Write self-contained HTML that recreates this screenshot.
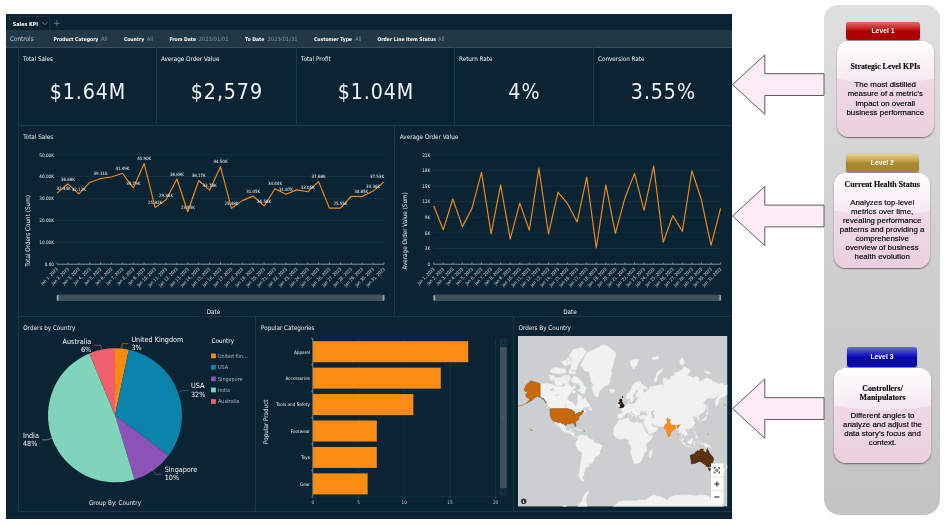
<!DOCTYPE html>
<html lang="en"><head><meta charset="utf-8"><title>Sales KPI dashboard levels</title>
<style>
html,body{margin:0;padding:0;background:#fff;}
body{width:946px;height:526px;position:relative;overflow:hidden;font-family:"Liberation Sans",sans-serif;}
.t{position:absolute;white-space:nowrap;font-family:"DejaVu Sans Condensed","DejaVu Sans",sans-serif;}
.abs{position:absolute;}
#dash{position:absolute;left:6px;top:14px;width:726px;height:504.5px;background:#0a2433;box-sizing:border-box;border-right:1px solid #06192599;}
.panel{position:absolute;box-sizing:border-box;border-left:1px solid #193746;border-bottom:1px solid #193746;}
svg{position:absolute;left:0;top:0;overflow:visible;}
svg text{font-family:"DejaVu Sans Condensed","DejaVu Sans",sans-serif;}
.card{position:absolute;box-sizing:border-box;border-radius:12px;background:linear-gradient(#f7e2ee 0%,#f0d9e5 45%,#ead0dd 100%);box-shadow:0 1px 1.5px rgba(60,40,50,.65);overflow:hidden;}
.card:before{content:"";position:absolute;left:-100%;width:300%;top:-110%;height:154%;border-radius:50%;background:linear-gradient(rgba(255,255,255,0) 0%,rgba(255,255,255,.95) 72%,rgba(255,255,255,.35) 100%);}
.badge{position:absolute;box-sizing:border-box;border-radius:2.5px;color:#fff;font-weight:bold;text-align:center;font-size:6.8px;}
.body{position:absolute;text-align:center;color:#000;-webkit-text-stroke:0.15px #000;font-size:7.9px;line-height:9px;white-space:nowrap;}
.ttl{position:absolute;text-align:center;color:#000;-webkit-text-stroke:0.12px #000;font-family:"Liberation Serif",serif;font-weight:bold;font-size:7.9px;line-height:9px;white-space:nowrap;}
</style></head><body>

<div id="dash"></div>
<div class="abs" style="left:8.5px;top:16px;width:41px;height:14.5px;box-sizing:border-box;border:1px solid #17313f;border-bottom:none;background:#0a202d;"></div>
<div class="t" style="top:20.79px;font-size:5.35px;line-height:6.42px;color:#fff;font-weight:bold;left:12.80px;">Sales KPI</div>
<svg width="946" height="526" viewBox="0 0 946 526"><path d="M42.3 22 L45 24.8 L47.7 22" fill="none" stroke="#8c9ba5" stroke-width="0.7"/><path d="M54 23.3H59.8M56.9 20.4V26.2" stroke="#7d8e99" stroke-width="0.7"/></svg>
<div class="abs" style="left:6px;top:30px;width:726px;height:17.5px;background:#233846;box-sizing:border-box;border-bottom:1px solid #3b4e5a;"></div>
<div class="t" style="top:36.06px;font-size:6.40px;line-height:7.68px;color:#c3ced4;left:9.90px;">Controls</div>
<div class="t" style="top:36.17px;font-size:5.05px;line-height:6.06px;color:#fff;font-weight:bold;left:53.50px;">Product Category</div>
<div class="t" style="top:35.72px;font-size:5.80px;line-height:6.96px;color:#7f909b;left:101.00px;">All</div>
<div class="t" style="top:36.17px;font-size:5.05px;line-height:6.06px;color:#fff;font-weight:bold;left:123.90px;">Country</div>
<div class="t" style="top:35.72px;font-size:5.80px;line-height:6.96px;color:#7f909b;left:146.70px;">All</div>
<div class="t" style="top:36.17px;font-size:5.05px;line-height:6.06px;color:#fff;font-weight:bold;left:169.50px;">From Date</div>
<div class="t" style="top:35.72px;font-size:5.80px;line-height:6.96px;color:#7f909b;left:198.50px;">2023/01/01</div>
<div class="t" style="top:36.17px;font-size:5.05px;line-height:6.06px;color:#fff;font-weight:bold;left:245.00px;">To Date</div>
<div class="t" style="top:35.72px;font-size:5.80px;line-height:6.96px;color:#7f909b;left:267.50px;">2023/01/31</div>
<div class="t" style="top:36.17px;font-size:5.05px;line-height:6.06px;color:#fff;font-weight:bold;left:314.00px;">Customer Type</div>
<div class="t" style="top:35.72px;font-size:5.80px;line-height:6.96px;color:#7f909b;left:355.00px;">All</div>
<div class="t" style="top:36.17px;font-size:5.05px;line-height:6.06px;color:#fff;font-weight:bold;left:377.50px;">Order Line Item Status</div>
<div class="t" style="top:35.72px;font-size:5.80px;line-height:6.96px;color:#7f909b;left:438.00px;">All</div>
<div class="panel" style="left:18.0px;top:47px;width:138.0px;height:78.5px;"></div>
<div class="t" style="top:54.92px;font-size:6.30px;line-height:7.56px;color:#eef2f4;left:23.00px;">Total Sales</div>
<div class="t" style="top:78.68px;font-size:21.20px;line-height:25.44px;color:#f2f4f5;left:87.90px;width:300px;margin-left:-150px;text-align:center;letter-spacing:0.9px;">$1.64M</div>
<div class="panel" style="left:156.0px;top:47px;width:140.0px;height:78.5px;"></div>
<div class="t" style="top:54.92px;font-size:6.30px;line-height:7.56px;color:#eef2f4;left:161.00px;">Average Order Value</div>
<div class="t" style="top:78.68px;font-size:21.20px;line-height:25.44px;color:#f2f4f5;left:226.90px;width:300px;margin-left:-150px;text-align:center;letter-spacing:0.9px;">$2,579</div>
<div class="panel" style="left:296.0px;top:47px;width:158.0px;height:78.5px;"></div>
<div class="t" style="top:54.92px;font-size:6.30px;line-height:7.56px;color:#eef2f4;left:301.00px;">Total Profit</div>
<div class="t" style="top:78.68px;font-size:21.20px;line-height:25.44px;color:#f2f4f5;left:375.90px;width:300px;margin-left:-150px;text-align:center;letter-spacing:0.9px;">$1.04M</div>
<div class="panel" style="left:454.0px;top:47px;width:139.0px;height:78.5px;"></div>
<div class="t" style="top:54.92px;font-size:6.30px;line-height:7.56px;color:#eef2f4;left:459.00px;">Return Rate</div>
<div class="t" style="top:78.68px;font-size:21.20px;line-height:25.44px;color:#f2f4f5;left:524.40px;width:300px;margin-left:-150px;text-align:center;letter-spacing:0.9px;">4%</div>
<div class="panel" style="left:593.0px;top:47px;width:139.0px;height:78.5px;"></div>
<div class="t" style="top:54.92px;font-size:6.30px;line-height:7.56px;color:#eef2f4;left:598.00px;">Conversion Rate</div>
<div class="t" style="top:78.68px;font-size:21.20px;line-height:25.44px;color:#f2f4f5;left:663.40px;width:300px;margin-left:-150px;text-align:center;letter-spacing:0.9px;">3.55%</div>
<div class="panel" style="left:18px;top:125.5px;width:376px;height:191.5px;"></div>
<div class="panel" style="left:394px;top:125.5px;width:338px;height:191.5px;"></div>
<div class="t" style="top:133.22px;font-size:6.30px;line-height:7.56px;color:#e8eef1;left:23.30px;">Total Sales</div>
<div class="t" style="top:133.22px;font-size:6.30px;line-height:7.56px;color:#e8eef1;left:399.80px;">Average Order Value</div>
<div class="panel" style="left:18px;top:317px;width:237px;height:194.5px;"></div>
<div class="panel" style="left:255px;top:317px;width:258px;height:194.5px;"></div>
<div class="panel" style="left:513px;top:317px;width:219px;height:194.5px;"></div>
<div class="t" style="top:323.82px;font-size:6.30px;line-height:7.56px;color:#e8eef1;left:23.30px;">Orders by Country</div>
<div class="t" style="top:323.82px;font-size:6.30px;line-height:7.56px;color:#e8eef1;left:261.00px;">Popular Categories</div>
<div class="t" style="top:323.82px;font-size:6.30px;line-height:7.56px;color:#e8eef1;left:518.50px;">Orders By Country</div>
<svg width="946" height="526" viewBox="0 0 946 526">
<path d="M57.0 264.20H384.0" stroke="#a3b1ba" stroke-width="0.8"/>
<text x="54.0" y="266.10" font-size="4.65" fill="#dfe6ea" text-anchor="end">0.00</text>
<path d="M57.0 242.28H384.0" stroke="#1b3a49" stroke-width="0.6"/>
<text x="54.0" y="244.18" font-size="4.65" fill="#dfe6ea" text-anchor="end">10.00K</text>
<path d="M57.0 220.36H384.0" stroke="#1b3a49" stroke-width="0.6"/>
<text x="54.0" y="222.26" font-size="4.65" fill="#dfe6ea" text-anchor="end">20.00K</text>
<path d="M57.0 198.44H384.0" stroke="#1b3a49" stroke-width="0.6"/>
<text x="54.0" y="200.34" font-size="4.65" fill="#dfe6ea" text-anchor="end">30.00K</text>
<path d="M57.0 176.52H384.0" stroke="#1b3a49" stroke-width="0.6"/>
<text x="54.0" y="178.42" font-size="4.65" fill="#dfe6ea" text-anchor="end">40.00K</text>
<path d="M57.0 154.60H384.0" stroke="#1b3a49" stroke-width="0.6"/>
<text x="54.0" y="156.50" font-size="4.65" fill="#dfe6ea" text-anchor="end">50.00K</text>
<path d="M57.00 262.3v2" stroke="#a3b1ba" stroke-width="0.6"/>
<text transform="translate(58.30 269.40) rotate(-45)" font-size="4.4" fill="#d2dadf" text-anchor="end">Jan 1, 2023</text>
<path d="M67.90 262.3v2" stroke="#a3b1ba" stroke-width="0.6"/>
<text transform="translate(69.20 269.40) rotate(-45)" font-size="4.4" fill="#d2dadf" text-anchor="end">Jan 2, 2023</text>
<path d="M78.80 262.3v2" stroke="#a3b1ba" stroke-width="0.6"/>
<text transform="translate(80.10 269.40) rotate(-45)" font-size="4.4" fill="#d2dadf" text-anchor="end">Jan 3, 2023</text>
<path d="M89.70 262.3v2" stroke="#a3b1ba" stroke-width="0.6"/>
<text transform="translate(91.00 269.40) rotate(-45)" font-size="4.4" fill="#d2dadf" text-anchor="end">Jan 4, 2023</text>
<path d="M100.60 262.3v2" stroke="#a3b1ba" stroke-width="0.6"/>
<text transform="translate(101.90 269.40) rotate(-45)" font-size="4.4" fill="#d2dadf" text-anchor="end">Jan 5, 2023</text>
<path d="M111.50 262.3v2" stroke="#a3b1ba" stroke-width="0.6"/>
<text transform="translate(112.80 269.40) rotate(-45)" font-size="4.4" fill="#d2dadf" text-anchor="end">Jan 6, 2023</text>
<path d="M122.40 262.3v2" stroke="#a3b1ba" stroke-width="0.6"/>
<text transform="translate(123.70 269.40) rotate(-45)" font-size="4.4" fill="#d2dadf" text-anchor="end">Jan 7, 2023</text>
<path d="M133.30 262.3v2" stroke="#a3b1ba" stroke-width="0.6"/>
<text transform="translate(134.60 269.40) rotate(-45)" font-size="4.4" fill="#d2dadf" text-anchor="end">Jan 8, 2023</text>
<path d="M144.20 262.3v2" stroke="#a3b1ba" stroke-width="0.6"/>
<text transform="translate(145.50 269.40) rotate(-45)" font-size="4.4" fill="#d2dadf" text-anchor="end">Jan 9, 2023</text>
<path d="M155.10 262.3v2" stroke="#a3b1ba" stroke-width="0.6"/>
<text transform="translate(156.40 269.40) rotate(-45)" font-size="4.4" fill="#d2dadf" text-anchor="end">Jan 10, 2023</text>
<path d="M166.00 262.3v2" stroke="#a3b1ba" stroke-width="0.6"/>
<text transform="translate(167.30 269.40) rotate(-45)" font-size="4.4" fill="#d2dadf" text-anchor="end">Jan 11, 2023</text>
<path d="M176.90 262.3v2" stroke="#a3b1ba" stroke-width="0.6"/>
<text transform="translate(178.20 269.40) rotate(-45)" font-size="4.4" fill="#d2dadf" text-anchor="end">Jan 12, 2023</text>
<path d="M187.80 262.3v2" stroke="#a3b1ba" stroke-width="0.6"/>
<text transform="translate(189.10 269.40) rotate(-45)" font-size="4.4" fill="#d2dadf" text-anchor="end">Jan 13, 2023</text>
<path d="M198.70 262.3v2" stroke="#a3b1ba" stroke-width="0.6"/>
<text transform="translate(200.00 269.40) rotate(-45)" font-size="4.4" fill="#d2dadf" text-anchor="end">Jan 14, 2023</text>
<path d="M209.60 262.3v2" stroke="#a3b1ba" stroke-width="0.6"/>
<text transform="translate(210.90 269.40) rotate(-45)" font-size="4.4" fill="#d2dadf" text-anchor="end">Jan 15, 2023</text>
<path d="M220.50 262.3v2" stroke="#a3b1ba" stroke-width="0.6"/>
<text transform="translate(221.80 269.40) rotate(-45)" font-size="4.4" fill="#d2dadf" text-anchor="end">Jan 16, 2023</text>
<path d="M231.40 262.3v2" stroke="#a3b1ba" stroke-width="0.6"/>
<text transform="translate(232.70 269.40) rotate(-45)" font-size="4.4" fill="#d2dadf" text-anchor="end">Jan 17, 2023</text>
<path d="M242.30 262.3v2" stroke="#a3b1ba" stroke-width="0.6"/>
<text transform="translate(243.60 269.40) rotate(-45)" font-size="4.4" fill="#d2dadf" text-anchor="end">Jan 18, 2023</text>
<path d="M253.20 262.3v2" stroke="#a3b1ba" stroke-width="0.6"/>
<text transform="translate(254.50 269.40) rotate(-45)" font-size="4.4" fill="#d2dadf" text-anchor="end">Jan 19, 2023</text>
<path d="M264.10 262.3v2" stroke="#a3b1ba" stroke-width="0.6"/>
<text transform="translate(265.40 269.40) rotate(-45)" font-size="4.4" fill="#d2dadf" text-anchor="end">Jan 20, 2023</text>
<path d="M275.00 262.3v2" stroke="#a3b1ba" stroke-width="0.6"/>
<text transform="translate(276.30 269.40) rotate(-45)" font-size="4.4" fill="#d2dadf" text-anchor="end">Jan 21, 2023</text>
<path d="M285.90 262.3v2" stroke="#a3b1ba" stroke-width="0.6"/>
<text transform="translate(287.20 269.40) rotate(-45)" font-size="4.4" fill="#d2dadf" text-anchor="end">Jan 22, 2023</text>
<path d="M296.80 262.3v2" stroke="#a3b1ba" stroke-width="0.6"/>
<text transform="translate(298.10 269.40) rotate(-45)" font-size="4.4" fill="#d2dadf" text-anchor="end">Jan 23, 2023</text>
<path d="M307.70 262.3v2" stroke="#a3b1ba" stroke-width="0.6"/>
<text transform="translate(309.00 269.40) rotate(-45)" font-size="4.4" fill="#d2dadf" text-anchor="end">Jan 24, 2023</text>
<path d="M318.60 262.3v2" stroke="#a3b1ba" stroke-width="0.6"/>
<text transform="translate(319.90 269.40) rotate(-45)" font-size="4.4" fill="#d2dadf" text-anchor="end">Jan 25, 2023</text>
<path d="M329.50 262.3v2" stroke="#a3b1ba" stroke-width="0.6"/>
<text transform="translate(330.80 269.40) rotate(-45)" font-size="4.4" fill="#d2dadf" text-anchor="end">Jan 26, 2023</text>
<path d="M340.40 262.3v2" stroke="#a3b1ba" stroke-width="0.6"/>
<text transform="translate(341.70 269.40) rotate(-45)" font-size="4.4" fill="#d2dadf" text-anchor="end">Jan 27, 2023</text>
<path d="M351.30 262.3v2" stroke="#a3b1ba" stroke-width="0.6"/>
<text transform="translate(352.60 269.40) rotate(-45)" font-size="4.4" fill="#d2dadf" text-anchor="end">Jan 28, 2023</text>
<path d="M362.20 262.3v2" stroke="#a3b1ba" stroke-width="0.6"/>
<text transform="translate(363.50 269.40) rotate(-45)" font-size="4.4" fill="#d2dadf" text-anchor="end">Jan 29, 2023</text>
<path d="M373.10 262.3v2" stroke="#a3b1ba" stroke-width="0.6"/>
<text transform="translate(374.40 269.40) rotate(-45)" font-size="4.4" fill="#d2dadf" text-anchor="end">Jan 30, 2023</text>
<path d="M384.00 262.3v2" stroke="#a3b1ba" stroke-width="0.6"/>
<text transform="translate(385.30 269.40) rotate(-45)" font-size="4.4" fill="#d2dadf" text-anchor="end">Jan 31, 2023</text>
<polyline points="57.00,193.09 67.90,183.80 78.80,193.79 89.70,182.44 100.60,178.47 111.50,176.96 122.40,173.25 133.30,187.94 144.20,163.59 155.10,207.60 166.00,199.84 176.90,178.95 187.80,211.70 198.70,180.53 209.60,190.15 220.50,166.66 231.40,208.35 242.30,200.63 253.20,196.14 264.10,205.94 275.00,188.71 285.90,194.34 296.80,189.89 307.70,191.75 318.60,181.61 329.50,208.19 340.40,208.19 351.30,196.25 362.20,196.58 373.10,191.07 384.00,181.93" fill="none" stroke="#f28a17" stroke-width="1.15" stroke-linejoin="round"/>
<text x="63.60" y="190.49" font-size="4.45" fill="#f4f6f7" text-anchor="middle">32.44K</text>
<text x="67.90" y="181.10" font-size="4.45" fill="#f4f6f7" text-anchor="middle">36.68K</text>
<text x="78.80" y="191.09" font-size="4.45" fill="#f4f6f7" text-anchor="middle">32.12K</text>
<text x="100.60" y="175.27" font-size="4.45" fill="#f4f6f7" text-anchor="middle">39.11K</text>
<text x="122.40" y="169.55" font-size="4.45" fill="#f4f6f7" text-anchor="middle">41.49K</text>
<text x="133.30" y="184.74" font-size="4.45" fill="#f4f6f7" text-anchor="middle">34.79K</text>
<text x="144.20" y="160.19" font-size="4.45" fill="#f4f6f7" text-anchor="middle">45.90K</text>
<text x="155.10" y="204.40" font-size="4.45" fill="#f4f6f7" text-anchor="middle">25.82K</text>
<text x="166.00" y="196.64" font-size="4.45" fill="#f4f6f7" text-anchor="middle">29.36K</text>
<text x="176.90" y="175.75" font-size="4.45" fill="#f4f6f7" text-anchor="middle">38.89K</text>
<text x="187.80" y="208.50" font-size="4.45" fill="#f4f6f7" text-anchor="middle">23.95K</text>
<text x="198.70" y="177.33" font-size="4.45" fill="#f4f6f7" text-anchor="middle">38.17K</text>
<text x="209.60" y="186.95" font-size="4.45" fill="#f4f6f7" text-anchor="middle">33.78K</text>
<text x="220.50" y="163.26" font-size="4.45" fill="#f4f6f7" text-anchor="middle">44.50K</text>
<text x="231.40" y="205.15" font-size="4.45" fill="#f4f6f7" text-anchor="middle">25.48K</text>
<text x="253.20" y="192.74" font-size="4.45" fill="#f4f6f7" text-anchor="middle">31.05K</text>
<text x="264.10" y="202.54" font-size="4.45" fill="#f4f6f7" text-anchor="middle">26.58K</text>
<text x="275.00" y="185.31" font-size="4.45" fill="#f4f6f7" text-anchor="middle">34.44K</text>
<text x="285.90" y="190.94" font-size="4.45" fill="#f4f6f7" text-anchor="middle">31.87K</text>
<text x="307.70" y="188.55" font-size="4.45" fill="#f4f6f7" text-anchor="middle">33.05K</text>
<text x="318.60" y="177.91" font-size="4.45" fill="#f4f6f7" text-anchor="middle">37.68K</text>
<text x="340.40" y="204.79" font-size="4.45" fill="#f4f6f7" text-anchor="middle">25.55K</text>
<text x="361.20" y="193.38" font-size="4.45" fill="#f4f6f7" text-anchor="middle">30.85K</text>
<text x="373.10" y="187.87" font-size="4.45" fill="#f4f6f7" text-anchor="middle">33.36K</text>
<text x="377.00" y="178.23" font-size="4.45" fill="#f4f6f7" text-anchor="middle">37.53K</text>
<text transform="translate(29.6 230.9) rotate(-90)" font-size="6.3" fill="#e8eef1" text-anchor="middle">Total Orders Count (Sum)</text>
<rect x="57.0" y="294.6" width="327.0" height="6.4" rx="1.2" fill="#3f515d"/>
<rect x="56.7" y="294.9" width="1.8" height="5.8" rx="0.9" fill="#96a3b4"/>
<rect x="382.7" y="294.9" width="1.8" height="5.8" rx="0.9" fill="#96a3b4"/>
<text x="213.5" y="314.2" font-size="6.3" fill="#e8eef1" text-anchor="middle">Date</text>
<path d="M433.7 264.20H720.6" stroke="#a3b1ba" stroke-width="0.8"/>
<text x="430.2" y="266.10" font-size="4.65" fill="#dfe6ea" text-anchor="end">0</text>
<path d="M433.7 248.54H720.6" stroke="#1b3a49" stroke-width="0.6"/>
<text x="430.2" y="250.44" font-size="4.65" fill="#dfe6ea" text-anchor="end">3K</text>
<path d="M433.7 232.89H720.6" stroke="#1b3a49" stroke-width="0.6"/>
<text x="430.2" y="234.79" font-size="4.65" fill="#dfe6ea" text-anchor="end">6K</text>
<path d="M433.7 217.23H720.6" stroke="#1b3a49" stroke-width="0.6"/>
<text x="430.2" y="219.13" font-size="4.65" fill="#dfe6ea" text-anchor="end">9K</text>
<path d="M433.7 201.57H720.6" stroke="#1b3a49" stroke-width="0.6"/>
<text x="430.2" y="203.47" font-size="4.65" fill="#dfe6ea" text-anchor="end">12K</text>
<path d="M433.7 185.91H720.6" stroke="#1b3a49" stroke-width="0.6"/>
<text x="430.2" y="187.81" font-size="4.65" fill="#dfe6ea" text-anchor="end">15K</text>
<path d="M433.7 170.26H720.6" stroke="#1b3a49" stroke-width="0.6"/>
<text x="430.2" y="172.16" font-size="4.65" fill="#dfe6ea" text-anchor="end">18K</text>
<path d="M433.7 154.60H720.6" stroke="#1b3a49" stroke-width="0.6"/>
<text x="430.2" y="156.50" font-size="4.65" fill="#dfe6ea" text-anchor="end">21K</text>
<path d="M433.70 262.3v2" stroke="#a3b1ba" stroke-width="0.6"/>
<text transform="translate(435.00 269.40) rotate(-45)" font-size="4.4" fill="#d2dadf" text-anchor="end">Jan 1, 2023</text>
<path d="M443.26 262.3v2" stroke="#a3b1ba" stroke-width="0.6"/>
<text transform="translate(444.56 269.40) rotate(-45)" font-size="4.4" fill="#d2dadf" text-anchor="end">Jan 2, 2023</text>
<path d="M452.83 262.3v2" stroke="#a3b1ba" stroke-width="0.6"/>
<text transform="translate(454.13 269.40) rotate(-45)" font-size="4.4" fill="#d2dadf" text-anchor="end">Jan 3, 2023</text>
<path d="M462.39 262.3v2" stroke="#a3b1ba" stroke-width="0.6"/>
<text transform="translate(463.69 269.40) rotate(-45)" font-size="4.4" fill="#d2dadf" text-anchor="end">Jan 4, 2023</text>
<path d="M471.95 262.3v2" stroke="#a3b1ba" stroke-width="0.6"/>
<text transform="translate(473.25 269.40) rotate(-45)" font-size="4.4" fill="#d2dadf" text-anchor="end">Jan 5, 2023</text>
<path d="M481.52 262.3v2" stroke="#a3b1ba" stroke-width="0.6"/>
<text transform="translate(482.82 269.40) rotate(-45)" font-size="4.4" fill="#d2dadf" text-anchor="end">Jan 6, 2023</text>
<path d="M491.08 262.3v2" stroke="#a3b1ba" stroke-width="0.6"/>
<text transform="translate(492.38 269.40) rotate(-45)" font-size="4.4" fill="#d2dadf" text-anchor="end">Jan 7, 2023</text>
<path d="M500.64 262.3v2" stroke="#a3b1ba" stroke-width="0.6"/>
<text transform="translate(501.94 269.40) rotate(-45)" font-size="4.4" fill="#d2dadf" text-anchor="end">Jan 8, 2023</text>
<path d="M510.21 262.3v2" stroke="#a3b1ba" stroke-width="0.6"/>
<text transform="translate(511.51 269.40) rotate(-45)" font-size="4.4" fill="#d2dadf" text-anchor="end">Jan 9, 2023</text>
<path d="M519.77 262.3v2" stroke="#a3b1ba" stroke-width="0.6"/>
<text transform="translate(521.07 269.40) rotate(-45)" font-size="4.4" fill="#d2dadf" text-anchor="end">Jan 10, 2023</text>
<path d="M529.33 262.3v2" stroke="#a3b1ba" stroke-width="0.6"/>
<text transform="translate(530.63 269.40) rotate(-45)" font-size="4.4" fill="#d2dadf" text-anchor="end">Jan 11, 2023</text>
<path d="M538.90 262.3v2" stroke="#a3b1ba" stroke-width="0.6"/>
<text transform="translate(540.20 269.40) rotate(-45)" font-size="4.4" fill="#d2dadf" text-anchor="end">Jan 12, 2023</text>
<path d="M548.46 262.3v2" stroke="#a3b1ba" stroke-width="0.6"/>
<text transform="translate(549.76 269.40) rotate(-45)" font-size="4.4" fill="#d2dadf" text-anchor="end">Jan 13, 2023</text>
<path d="M558.02 262.3v2" stroke="#a3b1ba" stroke-width="0.6"/>
<text transform="translate(559.32 269.40) rotate(-45)" font-size="4.4" fill="#d2dadf" text-anchor="end">Jan 14, 2023</text>
<path d="M567.59 262.3v2" stroke="#a3b1ba" stroke-width="0.6"/>
<text transform="translate(568.89 269.40) rotate(-45)" font-size="4.4" fill="#d2dadf" text-anchor="end">Jan 15, 2023</text>
<path d="M577.15 262.3v2" stroke="#a3b1ba" stroke-width="0.6"/>
<text transform="translate(578.45 269.40) rotate(-45)" font-size="4.4" fill="#d2dadf" text-anchor="end">Jan 16, 2023</text>
<path d="M586.71 262.3v2" stroke="#a3b1ba" stroke-width="0.6"/>
<text transform="translate(588.01 269.40) rotate(-45)" font-size="4.4" fill="#d2dadf" text-anchor="end">Jan 17, 2023</text>
<path d="M596.28 262.3v2" stroke="#a3b1ba" stroke-width="0.6"/>
<text transform="translate(597.58 269.40) rotate(-45)" font-size="4.4" fill="#d2dadf" text-anchor="end">Jan 18, 2023</text>
<path d="M605.84 262.3v2" stroke="#a3b1ba" stroke-width="0.6"/>
<text transform="translate(607.14 269.40) rotate(-45)" font-size="4.4" fill="#d2dadf" text-anchor="end">Jan 19, 2023</text>
<path d="M615.40 262.3v2" stroke="#a3b1ba" stroke-width="0.6"/>
<text transform="translate(616.70 269.40) rotate(-45)" font-size="4.4" fill="#d2dadf" text-anchor="end">Jan 20, 2023</text>
<path d="M624.97 262.3v2" stroke="#a3b1ba" stroke-width="0.6"/>
<text transform="translate(626.27 269.40) rotate(-45)" font-size="4.4" fill="#d2dadf" text-anchor="end">Jan 21, 2023</text>
<path d="M634.53 262.3v2" stroke="#a3b1ba" stroke-width="0.6"/>
<text transform="translate(635.83 269.40) rotate(-45)" font-size="4.4" fill="#d2dadf" text-anchor="end">Jan 22, 2023</text>
<path d="M644.09 262.3v2" stroke="#a3b1ba" stroke-width="0.6"/>
<text transform="translate(645.39 269.40) rotate(-45)" font-size="4.4" fill="#d2dadf" text-anchor="end">Jan 23, 2023</text>
<path d="M653.66 262.3v2" stroke="#a3b1ba" stroke-width="0.6"/>
<text transform="translate(654.96 269.40) rotate(-45)" font-size="4.4" fill="#d2dadf" text-anchor="end">Jan 24, 2023</text>
<path d="M663.22 262.3v2" stroke="#a3b1ba" stroke-width="0.6"/>
<text transform="translate(664.52 269.40) rotate(-45)" font-size="4.4" fill="#d2dadf" text-anchor="end">Jan 25, 2023</text>
<path d="M672.78 262.3v2" stroke="#a3b1ba" stroke-width="0.6"/>
<text transform="translate(674.08 269.40) rotate(-45)" font-size="4.4" fill="#d2dadf" text-anchor="end">Jan 26, 2023</text>
<path d="M682.35 262.3v2" stroke="#a3b1ba" stroke-width="0.6"/>
<text transform="translate(683.65 269.40) rotate(-45)" font-size="4.4" fill="#d2dadf" text-anchor="end">Jan 27, 2023</text>
<path d="M691.91 262.3v2" stroke="#a3b1ba" stroke-width="0.6"/>
<text transform="translate(693.21 269.40) rotate(-45)" font-size="4.4" fill="#d2dadf" text-anchor="end">Jan 28, 2023</text>
<path d="M701.47 262.3v2" stroke="#a3b1ba" stroke-width="0.6"/>
<text transform="translate(702.77 269.40) rotate(-45)" font-size="4.4" fill="#d2dadf" text-anchor="end">Jan 29, 2023</text>
<path d="M711.04 262.3v2" stroke="#a3b1ba" stroke-width="0.6"/>
<text transform="translate(712.34 269.40) rotate(-45)" font-size="4.4" fill="#d2dadf" text-anchor="end">Jan 30, 2023</text>
<path d="M720.60 262.3v2" stroke="#a3b1ba" stroke-width="0.6"/>
<text transform="translate(721.90 269.40) rotate(-45)" font-size="4.4" fill="#d2dadf" text-anchor="end">Jan 31, 2023</text>
<polyline points="433.70,205.75 443.26,229.75 452.83,198.96 462.39,226.62 471.95,208.36 481.52,172.34 491.08,233.93 500.64,184.87 510.21,239.15 519.77,203.14 529.33,230.28 538.90,168.17 548.46,233.93 558.02,192.18 567.59,203.66 577.15,221.93 586.71,177.04 596.28,248.02 605.84,184.87 615.40,233.41 624.97,197.92 634.53,173.39 644.09,210.44 653.66,166.08 663.22,242.28 672.78,215.66 682.35,231.32 691.91,170.78 701.47,200.01 711.04,245.41 720.60,208.36" fill="none" stroke="#f28a17" stroke-width="1.15" stroke-linejoin="round"/>
<text transform="translate(406.9 230.9) rotate(-90)" font-size="6.3" fill="#e8eef1" text-anchor="middle">Average Order Value (Sum)</text>
<rect x="433.7" y="294.6" width="286.9" height="6.4" rx="1.2" fill="#3f515d"/>
<rect x="433.4" y="294.9" width="1.8" height="5.8" rx="0.9" fill="#96a3b4"/>
<rect x="719.3" y="294.9" width="1.8" height="5.8" rx="0.9" fill="#96a3b4"/>
<text x="570.0" y="314.2" font-size="6.3" fill="#e8eef1" text-anchor="middle">Date</text>
<path d="M115.00 415.30L115.00 348.30A67 67 0 0 1 128.79 349.74Z" fill="#f98b10"/>
<path d="M115.00 415.30L128.79 349.74A67 67 0 0 1 168.65 455.43Z" fill="#0b84ab"/>
<path d="M115.00 415.30L168.65 455.43A67 67 0 0 1 134.50 479.40Z" fill="#8b53b7"/>
<path d="M115.00 415.30L134.50 479.40A67 67 0 0 1 89.36 353.40Z" fill="#7fd5ba"/>
<path d="M115.00 415.30L89.36 353.40A67 67 0 0 1 115.00 348.30Z" fill="#f0616d"/>
<path d="M121.5 348.3L122.3 343.7H128.5" fill="none" stroke="#f98b10" stroke-width="0.6"/>
<path d="M102 349.5L100.5 345.3H94" fill="none" stroke="#f0616d" stroke-width="0.6"/>
<path d="M178.5 392.5L182.5 390.5H188.5" fill="none" stroke="#0b84ab" stroke-width="0.6"/>
<path d="M153 470.5L155.5 474.3H162" fill="none" stroke="#8b53b7" stroke-width="0.6"/>
<path d="M52 438L47.5 439.8H42" fill="none" stroke="#7fd5ba" stroke-width="0.6"/>
<rect x="211.1" y="353.5" width="4.8" height="4.8" fill="#f98b10"/>
<text x="218" y="357.7" font-size="5.4" fill="#a9b6be">United Kin...</text>
<rect x="211.1" y="364.9" width="4.8" height="4.8" fill="#0b84ab"/>
<text x="218" y="369.1" font-size="5.4" fill="#a9b6be">USA</text>
<rect x="211.1" y="376.5" width="4.8" height="4.8" fill="#8b53b7"/>
<text x="218" y="380.7" font-size="5.4" fill="#a9b6be">Singapore</text>
<rect x="211.1" y="387.6" width="4.8" height="4.8" fill="#7fd5ba"/>
<text x="218" y="391.8" font-size="5.4" fill="#a9b6be">India</text>
<rect x="211.1" y="399.1" width="4.8" height="4.8" fill="#f0616d"/>
<text x="218" y="403.3" font-size="5.4" fill="#a9b6be">Australia</text>
<path d="M358.50 338.3V496.9" stroke="#1b3a49" stroke-width="0.6"/>
<path d="M404.20 338.3V496.9" stroke="#1b3a49" stroke-width="0.6"/>
<path d="M449.90 338.3V496.9" stroke="#1b3a49" stroke-width="0.6"/>
<path d="M495.60 338.3V496.9" stroke="#1b3a49" stroke-width="0.6"/>
<path d="M312.80 496.9H495.6" fill="none" stroke="#1b3a49" stroke-width="0.6"/>
<path d="M312.80 338.3V496.9" fill="none" stroke="#a3b1ba" stroke-width="0.7"/>
<rect x="313.10" y="341.20" width="155.08" height="21.03" fill="#fb8c11"/>
<text x="310" y="353.52" font-size="4.65" fill="#e4eaed" text-anchor="end">Apparel</text>
<path d="M312.8 338.30h-1.8" stroke="#a3b1ba" stroke-width="0.5"/>
<rect x="313.10" y="367.63" width="127.66" height="21.03" fill="#fb8c11"/>
<text x="310" y="379.95" font-size="4.65" fill="#e4eaed" text-anchor="end">Accessories</text>
<path d="M312.8 364.73h-1.8" stroke="#a3b1ba" stroke-width="0.5"/>
<rect x="313.10" y="394.07" width="100.24" height="21.03" fill="#fb8c11"/>
<text x="310" y="406.38" font-size="4.65" fill="#e4eaed" text-anchor="end">Tools and Safety</text>
<path d="M312.8 391.17h-1.8" stroke="#a3b1ba" stroke-width="0.5"/>
<rect x="313.10" y="420.50" width="63.68" height="21.03" fill="#fb8c11"/>
<text x="310" y="432.82" font-size="4.65" fill="#e4eaed" text-anchor="end">Footwear</text>
<path d="M312.8 417.60h-1.8" stroke="#a3b1ba" stroke-width="0.5"/>
<rect x="313.10" y="446.93" width="63.68" height="21.03" fill="#fb8c11"/>
<text x="310" y="459.25" font-size="4.65" fill="#e4eaed" text-anchor="end">Toys</text>
<path d="M312.8 444.03h-1.8" stroke="#a3b1ba" stroke-width="0.5"/>
<rect x="313.10" y="473.37" width="54.54" height="21.03" fill="#fb8c11"/>
<text x="310" y="485.68" font-size="4.65" fill="#e4eaed" text-anchor="end">Gear</text>
<path d="M312.8 470.47h-1.8" stroke="#a3b1ba" stroke-width="0.5"/>
<path d="M312.8 496.90h-1.8" stroke="#5d717c" stroke-width="0.5"/>
<text x="312.80" y="503.6" font-size="4.65" fill="#b4c0c7" text-anchor="middle">0</text>
<path d="M312.80 496.9v1.8" stroke="#5d717c" stroke-width="0.5"/>
<text x="358.50" y="503.6" font-size="4.65" fill="#b4c0c7" text-anchor="middle">5</text>
<path d="M358.50 496.9v1.8" stroke="#5d717c" stroke-width="0.5"/>
<text x="404.20" y="503.6" font-size="4.65" fill="#b4c0c7" text-anchor="middle">10</text>
<path d="M404.20 496.9v1.8" stroke="#5d717c" stroke-width="0.5"/>
<text x="449.90" y="503.6" font-size="4.65" fill="#b4c0c7" text-anchor="middle">15</text>
<path d="M449.90 496.9v1.8" stroke="#5d717c" stroke-width="0.5"/>
<text x="495.60" y="503.6" font-size="4.65" fill="#b4c0c7" text-anchor="middle">20</text>
<path d="M495.60 496.9v1.8" stroke="#5d717c" stroke-width="0.5"/>
<text transform="translate(267.8 421.7) rotate(-90)" font-size="6.3" fill="#e8eef1" text-anchor="middle">Popular Product</text>
<rect x="500" y="338.3" width="6.8" height="157.5" fill="#22394680"/>
<rect x="500" y="347" width="6.8" height="141" fill="#3f515d"/>
<path d="M502.2 343.6L503.4 341.8L504.6 343.6Z M502.2 490.6L503.4 492.4L504.6 490.6Z" fill="#0a1a24"/>
<path d="M502.2 417.3H504.6" stroke="#62737e" stroke-width="0.6"/>
</svg>
<div class="t" style="top:336.08px;font-size:7.20px;line-height:8.64px;color:#f4f6f7;left:131.40px;">United Kingdom</div>
<div class="t" style="top:344.28px;font-size:7.20px;line-height:8.64px;color:#f4f6f7;left:131.40px;">3%</div>
<div class="t" style="top:337.68px;font-size:7.20px;line-height:8.64px;color:#f4f6f7;right:854.80px;text-align:right;">Australia</div>
<div class="t" style="top:345.88px;font-size:7.20px;line-height:8.64px;color:#f4f6f7;right:854.80px;text-align:right;">6%</div>
<div class="t" style="top:382.48px;font-size:7.20px;line-height:8.64px;color:#f4f6f7;left:191.00px;">USA</div>
<div class="t" style="top:390.68px;font-size:7.20px;line-height:8.64px;color:#f4f6f7;left:191.00px;">32%</div>
<div class="t" style="top:465.78px;font-size:7.20px;line-height:8.64px;color:#f4f6f7;left:164.70px;">Singapore</div>
<div class="t" style="top:473.58px;font-size:7.20px;line-height:8.64px;color:#f4f6f7;left:164.70px;">10%</div>
<div class="t" style="top:431.78px;font-size:7.20px;line-height:8.64px;color:#f4f6f7;left:23.00px;">India</div>
<div class="t" style="top:439.98px;font-size:7.20px;line-height:8.64px;color:#f4f6f7;left:23.00px;">48%</div>
<div class="t" style="top:499.22px;font-size:6.30px;line-height:7.56px;color:#e8eef1;left:115.00px;width:300px;margin-left:-150px;text-align:center;">Group By: Country</div>
<div class="t" style="top:336.62px;font-size:6.30px;line-height:7.56px;color:#f4f6f7;left:211.50px;">Country</div>
<svg width="946" height="526" viewBox="0 0 946 526"><defs><clipPath id="mc"><rect x="518.0" y="336.0" width="209.2" height="170.4"/></clipPath></defs>
<rect x="518.0" y="336.0" width="209.2" height="170.4" fill="#cbcfcf"/>
<g clip-path="url(#mc)">
<path d="M524.2 390.2 L525.4 385.7 L531.0 380.8 L540.2 383.7 L547.8 383.2 L554.3 384.9 L558.4 386.5 L564.3 386.5 L567.2 379.5 L570.2 385.7 L572.5 387.3 L575.2 384.0 L575.5 388.0 L572.5 389.5 L571.4 392.3 L567.8 396.2 L567.5 398.8 L568.7 400.8 L573.1 402.6 L574.9 404.9 L576.1 406.5 L576.7 403.9 L577.8 401.8 L577.3 398.9 L577.6 394.3 L580.2 394.9 L582.0 396.2 L582.3 398.8 L584.3 399.1 L585.2 397.0 L587.0 401.3 L589.3 403.9 L590.4 405.9 L587.9 407.6 L584.0 407.6 L582.0 410.0 L584.9 408.6 L585.2 410.4 L587.3 411.3 L584.3 413.2 L583.7 412.1 L582.0 413.2 L581.7 414.6 L579.6 415.7 L578.7 417.7 L578.4 419.9 L577.0 420.7 L575.5 422.3 L576.1 425.4 L575.9 426.6 L575.0 426.1 L574.4 424.7 L573.7 423.4 L572.5 423.2 L570.5 423.2 L570.2 424.1 L567.8 423.7 L565.9 425.1 L565.8 426.7 L565.6 428.5 L566.7 430.5 L567.5 431.0 L569.3 430.9 L569.9 429.3 L572.0 429.0 L571.7 430.9 L571.1 432.4 L573.7 432.5 L574.1 433.1 L573.9 435.5 L574.9 436.7 L576.4 436.4 L577.7 437.0 L577.3 437.8 L576.1 437.7 L575.2 437.3 L574.3 437.1 L572.8 436.1 L571.7 434.2 L569.3 433.6 L567.8 432.4 L566.4 432.6 L563.7 431.6 L561.1 429.9 L561.1 428.3 L559.0 426.4 L556.9 423.7 L555.6 422.2 L555.6 423.4 L557.2 426.1 L558.4 428.0 L557.2 427.0 L555.8 424.7 L554.3 421.6 L552.2 420.2 L551.3 418.4 L550.2 415.9 L550.2 413.8 L550.2 411.1 L549.8 409.2 L550.8 408.6 L549.6 407.7 L547.8 405.9 L546.6 403.4 L544.9 400.8 L543.1 399.1 L540.7 397.6 L537.2 396.4 L535.4 397.4 L533.7 398.5 L532.5 400.2 L530.1 401.3 L527.8 402.9 L526.0 403.4 L528.4 401.3 L530.1 398.9 L527.8 397.9 L525.7 396.2 L526.3 393.6 L528.4 391.6 L525.4 391.6Z M580.2 365.1 L583.1 359.4 L586.7 352.7 L593.8 349.6 L602.6 344.8 L608.5 346.3 L615.0 351.8 L616.4 354.7 L614.4 359.4 L613.2 365.6 L611.4 369.7 L612.0 373.3 L610.2 378.6 L610.2 382.3 L607.9 384.9 L604.4 386.5 L601.4 389.8 L599.6 390.9 L598.5 394.3 L597.6 397.4 L596.1 396.8 L594.3 394.9 L592.9 391.6 L591.7 388.0 L593.2 384.0 L591.1 382.3 L590.5 378.6 L589.0 372.1 L584.3 370.9 L582.6 367.6Z M577.7 437.0 L578.7 435.6 L580.8 434.8 L581.1 435.5 L582.0 434.8 L584.3 435.8 L586.7 435.6 L587.9 437.0 L589.6 438.4 L592.6 439.2 L593.8 441.4 L594.9 442.6 L597.3 443.5 L599.6 443.8 L601.4 445.0 L602.6 446.5 L601.4 448.5 L600.2 450.4 L599.9 452.8 L599.1 455.3 L597.0 456.1 L594.6 457.9 L594.5 459.6 L592.6 462.4 L591.4 464.0 L589.6 463.8 L588.7 463.4 L589.6 465.2 L589.0 466.7 L586.7 467.1 L586.4 468.6 L584.9 468.6 L585.8 470.0 L584.6 471.9 L583.4 473.0 L584.4 474.5 L582.6 477.2 L582.9 478.6 L584.6 480.9 L582.9 481.6 L580.8 480.1 L579.3 478.1 L578.7 474.5 L579.6 471.0 L579.9 467.9 L579.9 465.6 L581.1 462.0 L581.1 459.3 L581.8 456.0 L581.8 453.1 L580.8 452.2 L578.4 450.4 L577.3 447.9 L575.5 445.6 L575.3 444.5 L576.1 443.8 L575.6 442.6 L576.1 441.5 L576.8 441.1 L577.6 439.6 L577.6 437.8Z M619.7 419.3 L622.0 419.7 L625.0 418.5 L629.1 418.2 L629.7 420.6 L629.1 420.8 L632.0 421.8 L634.4 423.2 L635.0 421.4 L637.9 422.2 L640.3 422.8 L642.3 422.6 L643.3 422.5 L642.3 423.4 L644.1 427.4 L645.1 429.3 L645.3 430.9 L646.5 432.7 L648.5 434.5 L648.7 435.1 L649.7 435.8 L653.2 435.0 L653.2 435.8 L651.5 439.0 L650.3 440.5 L647.9 442.6 L646.8 443.8 L646.2 445.6 L646.5 447.9 L647.1 450.7 L645.0 452.5 L643.8 454.1 L644.1 456.6 L642.6 457.6 L642.5 459.6 L641.2 461.3 L639.1 463.3 L636.2 463.6 L635.0 464.0 L634.0 463.4 L633.8 462.0 L632.3 458.9 L631.7 455.7 L630.3 452.5 L631.2 449.5 L630.9 447.3 L630.3 445.3 L628.8 443.5 L628.5 441.7 L629.0 439.9 L628.2 439.3 L626.7 439.5 L625.9 438.3 L624.1 438.3 L622.0 439.2 L620.5 438.9 L618.8 439.4 L617.6 438.4 L615.8 437.5 L615.2 436.4 L614.4 435.5 L613.3 434.5 L613.0 433.2 L613.6 432.1 L613.6 430.5 L613.2 429.3 L613.8 427.7 L614.7 426.1 L615.8 424.7 L617.3 423.7 L617.5 422.3 L618.5 421.1Z M617.9 418.4 L617.7 417.1 L618.0 415.0 L617.8 413.6 L618.8 413.2 L621.1 413.4 L622.3 413.4 L622.5 411.3 L621.7 410.2 L620.4 409.2 L622.3 408.9 L622.1 408.0 L623.3 408.1 L624.1 407.0 L625.3 406.4 L626.0 404.9 L627.3 404.3 L628.3 404.0 L628.0 402.4 L628.0 400.8 L629.4 400.0 L629.3 401.8 L629.0 402.9 L629.7 403.9 L631.4 403.9 L634.1 403.2 L634.9 403.5 L635.6 402.6 L635.6 400.8 L636.5 400.1 L637.5 400.4 L637.0 398.3 L639.7 397.8 L640.6 397.4 L637.9 397.1 L636.6 397.5 L635.7 396.4 L635.9 393.6 L637.9 390.9 L637.3 389.8 L636.2 389.9 L635.6 392.0 L633.5 394.5 L633.3 396.5 L634.3 397.6 L632.9 400.2 L632.6 401.6 L631.6 402.4 L630.7 402.4 L629.8 398.6 L629.4 398.2 L627.9 399.5 L626.4 398.8 L626.1 395.5 L627.0 393.9 L629.1 392.3 L630.9 389.2 L632.0 385.7 L634.1 383.5 L637.0 381.8 L639.7 381.4 L641.5 382.6 L640.9 383.7 L642.6 384.4 L647.3 387.3 L647.3 389.1 L645.6 389.5 L642.9 388.5 L643.8 391.9 L645.0 392.4 L646.8 391.5 L647.1 389.8 L649.1 389.2 L649.3 386.5 L650.6 386.8 L655.0 386.0 L658.5 384.9 L661.2 384.4 L663.5 386.0 L662.7 381.4 L663.3 377.6 L665.9 378.0 L666.2 380.5 L666.8 378.0 L668.0 379.5 L670.3 378.6 L670.9 376.1 L674.4 375.5 L674.4 372.8 L680.9 370.4 L684.8 366.5 L689.2 369.1 L690.1 372.1 L687.4 375.5 L689.8 376.1 L693.3 377.6 L696.2 376.1 L699.2 378.0 L699.2 381.4 L701.5 380.5 L705.7 378.6 L706.0 377.6 L711.6 379.5 L712.7 381.6 L717.4 382.8 L717.4 383.9 L723.3 383.2 L723.9 384.9 L728.0 384.4 L729.2 385.0 L729.2 390.9 L727.7 391.3 L728.9 393.9 L725.7 395.2 L723.5 397.4 L721.0 397.1 L719.2 399.9 L718.9 402.9 L717.4 404.9 L715.7 406.8 L714.9 401.3 L715.4 399.7 L718.3 396.5 L719.5 394.3 L717.4 396.2 L714.5 398.2 L712.4 398.3 L707.4 398.2 L703.0 402.9 L704.2 403.9 L706.2 404.6 L706.0 407.3 L705.1 410.0 L703.0 413.0 L701.2 413.6 L700.2 414.3 L698.4 416.3 L699.4 418.4 L699.3 419.7 L697.7 420.2 L697.7 418.6 L696.8 417.7 L696.5 416.3 L694.9 416.9 L695.1 415.7 L693.3 416.8 L692.7 417.5 L694.3 417.9 L695.4 418.4 L693.6 419.9 L694.4 421.6 L695.1 423.0 L694.5 424.7 L693.3 426.4 L691.8 428.0 L690.1 428.3 L688.3 429.2 L687.8 429.7 L686.8 429.0 L686.0 429.6 L685.5 430.7 L687.2 432.7 L687.6 434.8 L686.2 435.9 L685.0 436.8 L685.0 436.1 L683.9 435.5 L683.6 434.7 L682.6 434.1 L682.1 434.2 L681.7 436.1 L682.4 437.5 L683.9 439.0 L684.2 440.5 L684.6 441.2 L684.1 441.1 L682.7 440.2 L682.3 438.4 L681.1 437.3 L681.3 435.5 L680.7 432.4 L679.4 432.5 L678.7 432.3 L678.7 430.9 L677.5 429.3 L677.3 428.3 L676.5 428.5 L675.6 428.8 L674.4 429.3 L674.1 429.9 L673.3 430.2 L671.7 432.0 L670.4 432.7 L670.5 434.1 L670.2 435.9 L669.7 436.5 L669.3 436.8 L668.8 437.3 L668.1 436.2 L667.4 434.5 L666.5 432.4 L666.1 430.4 L666.0 429.1 L664.5 429.4 L663.8 428.5 L664.6 428.0 L663.4 427.6 L662.7 426.8 L662.4 426.5 L659.4 426.6 L656.9 426.3 L656.6 425.4 L655.3 425.7 L653.5 424.8 L652.7 423.2 L651.8 423.4 L651.5 423.7 L652.8 425.6 L653.1 426.8 L653.5 426.1 L653.6 427.2 L655.0 427.2 L656.4 425.9 L656.5 427.0 L657.8 427.7 L658.4 428.3 L657.7 429.7 L657.2 430.5 L655.7 431.5 L653.9 432.4 L651.9 433.6 L649.7 434.4 L648.8 434.4 L648.4 433.3 L648.2 432.1 L647.2 430.2 L646.3 429.0 L645.9 427.5 L645.0 426.4 L643.8 424.7 L643.7 423.7 L643.3 422.5 L643.8 421.3 L644.4 419.5 L644.4 418.6 L643.2 418.9 L642.0 418.8 L641.2 418.9 L639.9 418.6 L639.3 418.0 L638.7 416.7 L639.0 415.8 L640.3 415.4 L641.8 415.2 L643.8 414.6 L645.6 415.4 L647.6 415.0 L647.6 414.0 L646.2 413.0 L645.3 412.1 L645.8 411.1 L646.3 410.2 L645.3 410.7 L643.8 411.1 L644.1 411.9 L642.9 412.5 L642.3 411.5 L641.5 410.8 L640.9 411.7 L640.1 413.0 L639.6 414.2 L640.0 415.1 L638.7 415.4 L637.3 415.5 L637.0 416.1 L636.6 416.1 L637.3 417.5 L636.7 418.8 L636.0 418.6 L635.6 417.1 L634.7 415.9 L634.7 414.7 L634.1 414.2 L632.6 413.4 L631.7 412.0 L631.2 412.0 L631.3 411.5 L630.4 411.9 L630.4 412.7 L631.2 413.4 L631.9 414.6 L632.6 414.7 L634.1 416.0 L633.2 415.7 L632.9 416.5 L633.2 416.9 L632.8 417.5 L632.4 417.7 L632.6 416.5 L632.3 416.1 L631.6 415.6 L630.4 414.7 L629.4 413.8 L629.1 413.0 L628.4 412.6 L627.6 413.1 L626.7 413.7 L625.6 413.4 L625.0 414.2 L625.1 414.7 L623.7 415.4 L623.0 416.5 L623.3 417.1 L622.8 417.9 L622.0 418.6 L620.5 418.6 L620.0 419.1 L619.5 418.6 L618.9 418.3Z M517.2 518.4 L526.0 518.4 L534.9 514.3 L543.7 510.7 L552.5 509.8 L561.4 509.8 L563.1 505.6 L566.1 505.0 L567.2 507.5 L570.2 508.5 L576.1 508.5 L578.4 505.4 L582.0 500.8 L583.4 496.7 L585.5 493.1 L587.9 491.2 L589.3 490.9 L588.2 493.1 L586.7 496.0 L586.1 500.0 L587.0 505.4 L587.9 510.7 L593.8 518.4 L602.6 518.4 L608.5 510.7 L614.4 505.4 L618.5 501.7 L623.2 500.8 L629.1 500.8 L635.0 500.8 L640.9 499.6 L645.6 500.0 L649.7 496.7 L653.8 494.5 L657.4 496.0 L661.5 496.7 L664.4 498.3 L667.4 500.0 L670.3 496.7 L675.0 495.2 L679.2 494.9 L685.0 494.9 L689.2 494.5 L693.9 495.7 L699.8 494.8 L703.9 494.9 L708.6 496.0 L712.7 498.3 L717.4 500.8 L721.6 503.5 L723.3 506.4 L720.4 515.6 L723.3 518.4 L729.2 518.4 L729.2 548.2 L517.2 548.2Z M560.8 376.5 L566.7 375.0 L570.2 375.5 L570.2 379.5 L567.8 383.2 L566.1 384.9 L562.5 382.3Z M550.2 369.7 L555.5 367.0 L561.4 368.4 L565.5 368.9 L566.1 373.3 L561.9 373.7 L553.7 373.3 L550.2 372.1Z M561.4 361.7 L565.5 359.4 L569.0 365.1 L564.9 366.2Z M622.2 396.6 L622.7 396.5 L622.6 397.6 L622.3 397.5Z M576.1 376.5 L578.4 378.0 L582.0 381.4 L583.7 384.9 L586.7 388.0 L585.5 390.9 L584.3 394.3 L581.4 393.6 L579.6 391.6 L577.3 390.9 L580.2 388.8 L580.2 385.7 L576.7 383.2 L573.1 383.2 L570.8 380.5 L573.1 376.5Z M554.3 377.6 L561.4 377.6 L563.7 383.2 L561.4 385.7 L556.6 385.7 L554.3 382.3Z M549.6 374.8 L554.9 375.9 L553.7 380.5 L550.8 380.8 L549.3 378.6Z M570.2 369.7 L576.1 370.4 L578.4 364.2 L586.7 351.8 L582.0 347.3 L573.1 349.6 L569.0 355.8 L571.4 362.7Z M569.0 369.7 L576.1 372.1 L575.5 373.9 L569.0 373.7Z M563.1 376.5 L566.7 375.5 L568.4 379.5 L564.9 380.5Z M554.3 370.9 L560.8 370.9 L560.8 373.7 L556.1 373.9Z M566.7 357.7 L571.4 357.7 L571.4 364.2 L567.8 364.2Z M572.0 390.2 L573.7 389.5 L575.8 392.3 L573.7 393.6 L572.0 392.3Z M588.3 409.8 L590.5 406.3 L592.0 409.1 L592.0 410.7 L590.2 410.4Z M573.1 428.7 L574.9 427.9 L577.3 428.5 L579.5 429.8 L577.6 430.0 L576.7 429.0 L574.3 428.7Z M579.3 430.0 L580.8 429.9 L582.9 430.8 L581.1 431.3 L579.4 431.0Z M652.2 449.2 L652.8 451.3 L652.1 452.8 L651.2 457.0 L649.9 457.6 L648.8 456.0 L649.3 453.8 L649.1 451.9 L650.9 451.0Z M617.3 406.0 L618.2 406.2 L619.5 405.7 L619.6 404.4 L619.5 403.8 L618.8 403.7 L618.5 403.4 L618.2 403.6 L617.3 403.7 L617.6 404.6 L617.4 405.6Z M609.1 390.2 L610.2 388.9 L612.6 389.2 L614.5 389.1 L615.1 390.9 L614.4 391.9 L612.3 393.1 L609.9 392.4 L610.2 391.3Z M629.7 361.1 L632.6 359.4 L639.1 358.7 L637.3 364.8 L633.8 369.4 L631.4 367.0Z M653.5 380.1 L655.9 377.0 L656.2 373.3 L659.1 370.4 L663.3 368.4 L662.1 371.4 L657.4 376.1 L656.9 381.4 L654.4 381.9Z M651.5 357.7 L658.5 355.8 L658.5 359.4 L652.7 359.4Z M679.2 362.7 L682.1 356.6 L685.0 362.7 L682.1 365.6Z M703.9 371.4 L708.6 370.9 L711.6 373.3 L706.8 373.7Z M706.8 403.6 L707.7 406.8 L707.4 408.6 L707.7 411.3 L706.8 410.8 L706.8 407.7 L706.7 404.9Z M705.7 414.6 L706.5 411.7 L708.9 413.5 L707.4 414.6 L706.2 414.2Z M699.8 421.3 L700.4 420.4 L703.0 419.4 L703.9 418.2 L705.1 417.7 L705.7 415.7 L706.5 415.2 L706.8 416.5 L706.2 418.0 L706.1 419.5 L705.4 419.9 L703.9 420.2 L703.0 420.9 L702.1 420.4 L700.9 421.1 L700.7 422.5 L699.9 422.5Z M694.5 426.6 L695.0 426.8 L694.4 428.7 L693.9 427.9Z M687.2 430.4 L688.3 429.9 L688.6 430.2 L687.7 431.0Z M694.1 430.9 L695.2 430.9 L695.1 432.4 L696.2 433.8 L695.6 434.2 L694.8 433.8 L693.9 433.3 L694.1 432.1Z M695.1 437.8 L695.9 436.9 L697.1 436.2 L697.7 437.5 L697.1 438.6 L696.2 438.1Z M695.1 435.0 L696.8 434.5 L697.1 435.8 L695.6 436.4 L695.4 435.8Z M679.3 438.7 L680.6 438.9 L682.4 440.7 L684.2 442.6 L685.6 443.9 L685.5 445.4 L684.8 445.4 L683.3 444.4 L682.3 442.6 L681.3 441.0Z M685.2 446.0 L687.1 445.9 L688.6 446.0 L690.6 446.6 L690.6 447.2 L688.0 446.9 L685.9 446.4Z M687.4 441.1 L688.8 440.5 L689.8 440.1 L691.2 438.9 L692.1 437.8 L693.3 438.9 L692.6 439.9 L692.7 441.4 L691.8 442.9 L691.5 444.2 L690.6 444.4 L689.1 444.0 L688.0 442.9 L687.4 441.8Z M693.6 445.3 L694.2 443.8 L693.6 442.0 L694.5 441.2 L696.8 441.1 L695.6 441.8 L694.4 441.8 L694.8 442.6 L695.8 442.6 L695.1 443.2 L695.5 444.4 L694.8 444.8 L694.2 445.3Z M700.4 442.5 L702.1 442.5 L702.7 444.0 L704.5 443.0 L706.2 443.5 L708.6 444.5 L710.1 445.6 L710.4 446.7 L712.0 448.2 L709.8 447.9 L708.0 446.6 L707.1 447.5 L705.7 446.9 L704.5 446.9 L704.5 445.3 L702.7 444.5 L701.5 444.4 L701.1 443.6Z M695.9 448.1 L698.0 447.0 L696.8 447.1Z M690.9 447.0 L693.3 447.0 L695.6 447.0 L693.3 447.5 L691.5 447.3Z M670.2 436.2 L671.1 437.0 L671.4 437.8 L670.7 438.4 L670.3 438.1 L670.1 437.1Z M724.9 463.8 L726.6 465.2 L728.3 466.1 L727.5 467.5 L726.9 468.9 L726.1 468.9 L726.3 467.9 L725.6 467.3 L726.2 466.3 L726.0 465.2Z M724.9 468.3 L725.9 469.2 L724.9 470.8 L724.0 471.5 L723.7 472.7 L722.3 473.2 L721.3 472.6 L722.4 471.0 L723.9 469.8Z M698.3 440.8 L699.0 441.4 L698.6 442.5 L698.2 441.7Z M697.4 443.8 L700.1 443.8 L699.8 444.2 L697.7 444.2Z M628.2 415.4 L628.9 415.4 L628.9 416.8 L628.2 416.9Z M628.3 413.9 L628.8 413.8 L628.8 415.0 L628.4 414.9Z M630.6 417.7 L632.3 417.5 L632.2 418.6 L630.7 418.0Z M637.0 419.5 L638.6 419.7 L638.5 419.9 L637.1 419.7Z M642.2 419.9 L643.5 419.4 L643.2 419.9 L642.5 420.2Z" fill="#f1f1f0" stroke="#e2e4e4" stroke-width="0.3"/>
<path d="M650.9 412.1 L652.1 410.8 L653.2 410.6 L654.4 410.8 L654.1 412.1 L652.9 412.5 L653.2 413.8 L654.2 415.0 L654.8 416.9 L653.8 418.6 L652.7 418.2 L652.1 417.3 L652.4 415.9 L651.2 413.8Z M569.0 410.7 L571.4 408.8 L573.4 410.7 L572.0 410.9Z M571.4 414.6 L572.4 411.4 L573.3 411.4 L572.4 414.6Z M573.4 411.3 L576.1 411.4 L575.2 413.8 L574.0 413.1Z M574.0 414.8 L576.7 413.9 L578.3 413.4 L578.1 412.8 L576.4 413.1 L574.3 414.4Z M549.6 389.5 L553.7 388.0 L554.3 390.2 L550.8 390.9Z M554.3 396.2 L559.0 393.9 L557.8 395.5 L554.9 396.4Z M564.9 404.1 L566.4 406.8 L565.8 407.5 L564.9 405.9Z" fill="#cbcfcf"/>
<path d="M549.8 409.2 L550.8 408.6 L567.2 408.6 L570.5 409.5 L573.4 410.8 L574.6 411.9 L574.6 413.8 L574.3 414.6 L576.7 413.9 L576.7 413.5 L578.1 413.1 L579.0 412.1 L581.1 412.1 L581.7 411.3 L582.4 410.1 L583.1 410.2 L583.7 412.1 L582.0 413.2 L581.7 414.6 L579.6 415.7 L578.7 417.7 L578.4 419.9 L577.0 420.7 L575.5 422.3 L576.1 425.4 L575.9 426.6 L575.0 426.1 L574.4 424.7 L573.7 423.4 L572.5 423.2 L570.5 423.2 L570.2 424.1 L567.8 423.7 L565.9 425.1 L565.9 426.1 L564.6 425.1 L563.4 423.5 L562.5 424.1 L561.5 423.4 L560.5 422.1 L559.5 422.3 L557.8 422.5 L555.6 421.6 L554.3 421.6 L552.2 420.2 L551.3 418.4 L550.2 415.9 L550.2 413.8 L550.2 411.1Z M540.2 383.7 L540.2 397.0 L541.3 397.4 L542.5 398.5 L543.4 397.9 L544.9 400.8 L546.6 402.9 L545.7 402.9 L544.3 400.2 L542.8 399.3 L540.7 397.6 L537.2 396.4 L535.4 397.4 L533.7 398.5 L532.5 400.2 L530.1 401.3 L527.8 402.9 L526.0 403.4 L528.4 401.3 L530.1 398.9 L527.8 397.9 L525.7 396.2 L526.3 393.6 L528.4 391.6 L525.4 391.6 L524.2 390.2 L525.4 385.7 L531.0 380.8Z" fill="#c9690d" stroke="#5a2f08" stroke-width="0.35"/>
<path d="M526.0 403.4 L523.1 404.9 L519.5 405.9 L517.2 406.3" fill="none" stroke="#c9690d" stroke-width="0.7"/>
<circle cx="531.6" cy="430.2" r="0.7" fill="#c9690d"/>
<circle cx="530.3" cy="429.0" r="0.5" fill="#c9690d"/>
<circle cx="584.1" cy="431.0" r="0.7" fill="#c9690d"/>
<circle cx="708.5" cy="434.0" r="0.5" fill="#c9690d"/>
<circle cx="725.1" cy="405.0" r="0.5" fill="#c9690d"/>
<path d="M663.4 427.6 L664.6 428.0 L663.8 428.5 L664.5 429.4 L666.0 429.1 L666.1 430.4 L666.5 432.4 L667.4 434.5 L668.1 436.2 L668.8 437.3 L669.3 436.8 L669.7 436.5 L670.2 435.9 L670.5 434.1 L670.4 432.7 L671.7 432.0 L673.3 430.2 L674.1 429.9 L674.4 429.3 L675.6 428.8 L675.6 427.0 L675.1 426.7 L675.0 425.7 L676.1 425.9 L677.4 425.5 L679.2 424.9 L680.3 424.5 L680.3 425.2 L679.2 426.1 L678.9 427.0 L678.2 427.4 L678.0 428.7 L677.6 427.7 L677.0 427.2 L677.4 426.6 L676.1 426.5 L675.1 425.7 L675.0 424.9 L673.3 425.4 L670.9 424.5 L670.3 423.2 L669.7 422.7 L669.6 421.6 L670.3 419.9 L669.1 419.1 L667.8 418.3 L666.7 418.6 L666.8 420.2 L667.1 421.6 L667.4 422.3 L666.5 423.4 L665.0 424.7 L664.4 425.4 L664.7 426.4 L663.8 427.0Z" fill="#fb8b1c" stroke="#b8620c" stroke-width="0.3"/>
<circle cx="677.9" cy="434.7" r="0.7" fill="#fb8b1c"/>
<circle cx="678.4" cy="437.7" r="0.5" fill="#fb8b1c"/>
<circle cx="684.3" cy="441.2" r="0.6" fill="#fb8b1c"/>
<path d="M690.2 455.3 L690.5 457.9 L691.3 461.7 L690.9 463.6 L692.7 464.1 L693.9 463.4 L695.9 463.3 L697.4 462.2 L699.2 461.7 L700.5 461.7 L702.1 462.6 L703.1 464.0 L703.8 463.4 L704.4 462.4 L704.4 464.5 L705.5 464.9 L706.2 466.3 L707.7 466.9 L709.4 467.2 L710.4 466.3 L711.6 465.8 L712.0 464.1 L712.4 462.7 L713.3 461.0 L713.6 459.3 L713.3 457.6 L712.1 456.3 L711.3 455.3 L710.5 454.1 L709.4 453.5 L709.2 452.5 L708.8 451.0 L707.8 450.6 L707.2 448.4 L706.7 449.8 L706.5 451.6 L706.1 452.5 L705.2 452.5 L704.4 451.6 L703.1 451.0 L703.3 449.3 L703.9 449.3 L703.1 449.2 L701.5 448.9 L700.4 449.3 L699.8 450.1 L699.5 451.0 L698.6 450.9 L698.0 450.4 L697.3 450.7 L696.5 451.8 L695.2 452.3 L695.2 453.0 L694.5 453.8 L692.7 454.3 L691.2 455.0Z M708.4 468.4 L710.5 468.6 L710.4 470.4 L709.2 470.7 L708.7 469.6Z" fill="#5b3110" stroke="#2a1505" stroke-width="0.4"/>
<path d="M619.8 407.7 L621.1 407.5 L623.4 407.0 L624.0 406.6 L623.7 406.3 L624.2 405.2 L623.4 404.9 L623.2 404.3 L622.5 403.3 L622.0 402.0 L621.4 401.8 L622.0 400.1 L620.8 400.0 L621.4 399.0 L620.3 399.0 L619.8 400.2 L620.0 401.6 L620.3 402.9 L621.1 403.0 L621.4 403.9 L621.3 404.6 L620.5 404.7 L620.7 405.7 L620.1 406.0 L621.1 406.3 L621.4 406.5 L620.5 406.8Z M618.5 403.4 L618.9 402.6 L619.8 402.7 L620.0 403.5 L619.5 403.8 L618.8 403.7Z M622.2 396.6 L622.7 396.5 L622.6 397.6 L622.3 397.5Z" fill="#1d0f07" stroke="#140a05" stroke-width="0.9" stroke-linejoin="round"/>
</g>
<rect x="711" y="463.6" width="12.4" height="40" fill="#e9e9e9"/>
<rect x="711" y="463.6" width="12.4" height="12.8" fill="#fff"/>
<rect x="711" y="477.8" width="12.4" height="12.4" fill="#fff"/>
<rect x="711" y="491.4" width="12.4" height="12.1" fill="#fff"/>
<path d="M714.4 497H719.4" stroke="#222" stroke-width="1.1"/>
<path d="M714.4 484H719.4M716.9 481.5V486.5" stroke="#222" stroke-width="1.1"/>
<path d="M714.2 469.2V467.6H715.8M718 467.6H719.6V469.2M719.6 471.4V473H718M715.8 473H714.2V471.4" fill="none" stroke="#222" stroke-width="0.8"/><circle cx="716.9" cy="470.3" r="1.2" fill="none" stroke="#222" stroke-width="0.7"/><circle cx="716.9" cy="470.3" r="0.4" fill="#222"/>
<circle cx="523.7" cy="501.2" r="2.8" fill="#3d3d3d"/><text x="523.7" y="502.9" font-size="4.6" font-weight="bold" fill="#e8e8e8" text-anchor="middle" style="font-family:'Liberation Serif',serif">i</text>
</svg>
<div class="abs" style="left:823.7px;top:5px;width:116px;height:510.4px;border-radius:14px 14px 16px 16px;background:linear-gradient(#dfdfdf 0%,#d1d1d1 45%,#c3c3c3 100%);"></div>
<svg width="946" height="526" viewBox="0 0 946 526">
<path d="M732.6 84.6L764.8 54.9V73.7H824V95.5H764.8V114.3Z" fill="#fdebf6" stroke="#5c5c5c" stroke-width="1" stroke-linejoin="miter"/>
<path d="M732.6 216.0L764.8 186.3V205.1H824V226.9H764.8V245.7Z" fill="#fdebf6" stroke="#5c5c5c" stroke-width="1" stroke-linejoin="miter"/>
<path d="M732.6 408.6L764.8 378.9V397.7H824V419.5H764.8V438.3Z" fill="#fdebf6" stroke="#5c5c5c" stroke-width="1" stroke-linejoin="miter"/>
</svg>
<div class="badge" style="left:846.0px;top:22.0px;width:74.0px;height:18.0px;line-height:18.0px;background:linear-gradient(#e06a6a 0%,#c51f1f 38%,#ad0000 52%,#ad0000 100%);box-shadow:0 0.8px 1px rgba(0,0,0,.35);">Level 1</div>
<div class="card" style="left:837.0px;top:41.0px;width:96.5px;height:96.2px;"></div>
<div class="ttl" style="left:837.0px;width:96.5px;top:62.30px;">Strategic Level KPIs</div>
<div class="body" style="left:837.0px;width:96.5px;top:80.40px;">The most distilled</div>
<div class="body" style="left:837.0px;width:96.5px;top:89.45px;">measure of a metric's</div>
<div class="body" style="left:837.0px;width:96.5px;top:98.50px;">impact on overall</div>
<div class="body" style="left:837.0px;width:96.5px;top:107.55px;">business performance</div>
<div class="badge" style="left:846.0px;top:154.4px;width:72.6px;height:17.4px;line-height:17.4px;background:linear-gradient(#e6d08a 0%,#c2a24a 38%,#a8862f 52%,#a8862f 100%);box-shadow:0 0.8px 1px rgba(0,0,0,.35);">Level 2</div>
<div class="card" style="left:834.0px;top:172.5px;width:96.3px;height:95.9px;"></div>
<div class="ttl" style="left:834.0px;width:96.3px;top:180.00px;">Current Health Status</div>
<div class="body" style="left:834.0px;width:96.3px;top:198.20px;">Analyzes top-level</div>
<div class="body" style="left:834.0px;width:96.3px;top:207.15px;">metrics over time,</div>
<div class="body" style="left:834.0px;width:96.3px;top:216.10px;">revealing performance</div>
<div class="body" style="left:834.0px;width:96.3px;top:225.05px;">patterns and providing a</div>
<div class="body" style="left:834.0px;width:96.3px;top:234.00px;">comprehensive</div>
<div class="body" style="left:834.0px;width:96.3px;top:242.95px;">overview of business</div>
<div class="body" style="left:834.0px;width:96.3px;top:251.90px;">health evolution</div>
<div class="badge" style="left:847.3px;top:347.4px;width:69.3px;height:19.6px;line-height:19.6px;background:linear-gradient(#6a6ae0 0%,#1f1fc5 38%,#0808ad 52%,#0808ad 100%);box-shadow:0 0.8px 1px rgba(0,0,0,.35);">Level 3</div>
<div class="card" style="left:834.4px;top:367.8px;width:96.3px;height:95.2px;"></div>
<div class="ttl" style="left:834.4px;width:96.3px;top:383.70px;">Controllers/</div>
<div class="ttl" style="left:834.4px;width:96.3px;top:392.70px;">Manipulators</div>
<div class="body" style="left:834.4px;width:96.3px;top:410.70px;">Different angles to</div>
<div class="body" style="left:834.4px;width:96.3px;top:419.75px;">analyze and adjust the</div>
<div class="body" style="left:834.4px;width:96.3px;top:428.80px;">data story's focus and</div>
<div class="body" style="left:834.4px;width:96.3px;top:437.85px;">context.</div>
</body></html>
